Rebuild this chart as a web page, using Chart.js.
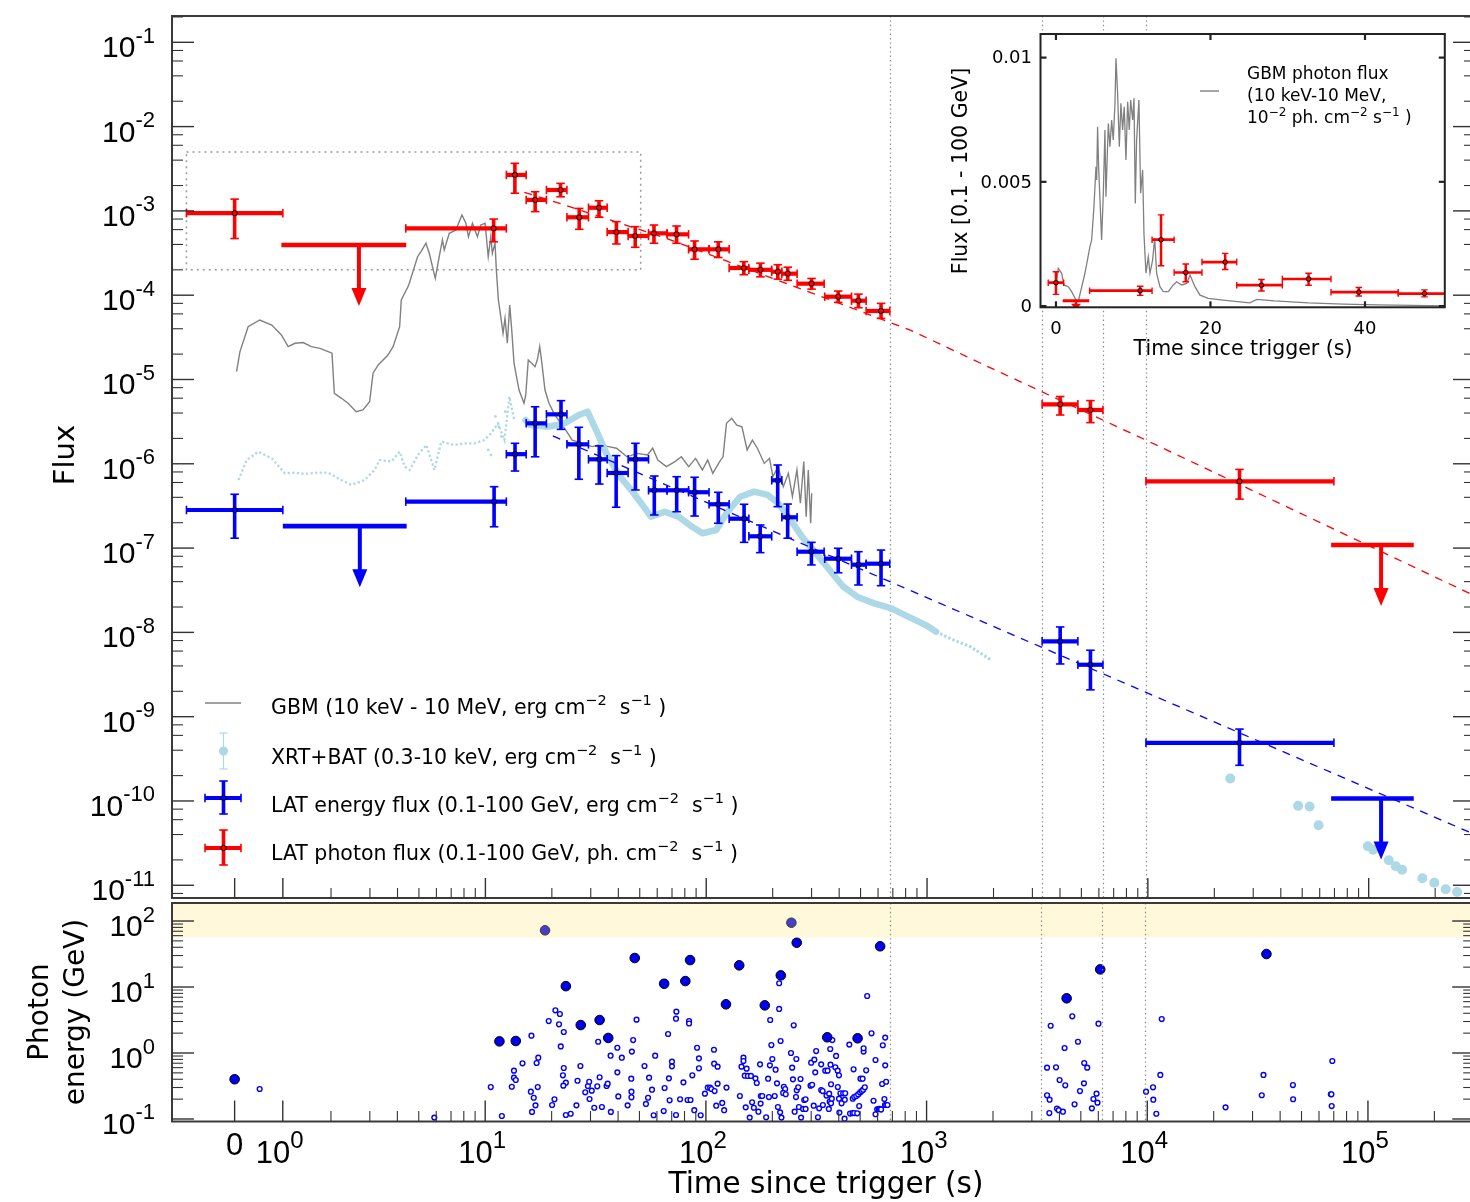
<!DOCTYPE html>
<html>
<head>
<meta charset="utf-8">
<script src="https://cdn.jsdelivr.net/npm/chart.js@4.4.1/dist/chart.umd.min.js"></script>
<style>
  body { margin: 0; background: #fff; }
  #wrap { position: relative; width: 1470px; height: 1202px; overflow: hidden; }
  #wrap canvas { position: absolute; left: 0; top: 0; }
</style>
</head>
<body>
<div id="wrap">
  <canvas id="mainChart" width="1480" height="1202"></canvas>
  <canvas id="photonChart" width="1480" height="1202"></canvas>
  <canvas id="insetChart" width="1480" height="1202"></canvas>
</div>
<script>
// ---- data ----
// LAT photon flux: [t, tlo, thi, flux, lo, hi]
const latPhoton = [
  [0, -1, 1, 9.4e-4, 4.7e-4, 1.38e-3],
  [10.9, 4.36, 12.44, 6.2e-4, 4.3e-4, 8.0e-4],
  [13.6, 12.44, 15.3, 2.67e-3, 1.62e-3, 3.67e-3],
  [16.8, 15.3, 18.9, 1.35e-3, 9.8e-4, 1.69e-3],
  [21.9, 18.9, 23.4, 1.77e-3, 1.47e-3, 2.12e-3],
  [26.6, 23.4, 29.3, 8.4e-4, 6.05e-4, 1.07e-3],
  [32.7, 29.3, 35.6, 1.09e-3, 8.4e-4, 1.32e-3],
  [39.2, 35.6, 44.3, 5.6e-4, 4.05e-4, 7.45e-4],
  [47.7, 44.3, 54.8, 5.04e-4, 3.7e-4, 6.5e-4],
  [58.0, 54.8, 66.5, 5.42e-4, 4.13e-4, 6.8e-4],
  [73.4, 66.5, 83.2, 5.27e-4, 4.13e-4, 6.62e-4],
  [88.6, 83.2, 103, 3.5e-4, 2.67e-4, 4.4e-4],
  [113.4, 103, 127, 3.5e-4, 2.8e-4, 4.3e-4],
  [148, 127, 156, 2.1e-4, 1.75e-4, 2.5e-4],
  [176, 156, 198, 2.0e-4, 1.65e-4, 2.4e-4],
  [211, 198, 220, 1.9e-4, 1.55e-4, 2.3e-4],
  [234, 220, 258, 1.8e-4, 1.5e-4, 2.15e-4],
  [300, 258, 342, 1.37e-4, 1.18e-4, 1.58e-4],
  [396, 344, 455, 9.6e-5, 8.2e-5, 1.12e-4],
  [489, 455, 530, 8.6e-5, 7.1e-5, 1.03e-4],
  [619, 530, 678, 6.5e-5, 5.3e-5, 8.0e-5],
  [4007, 3320, 4820, 5.07e-6, 3.79e-6, 6.28e-6],
  [5495, 4820, 6260, 4.35e-6, 3.08e-6, 5.62e-6],
  [26000, 9800, 69600, 6.2e-7, 3.81e-7, 8.57e-7]
];
const latPhotonUL = [[0.97, 4.38, 3.94e-4], [67600, 160000, 1.09e-7]];

// LAT energy flux: [t, tlo, thi, flux, lo, hi]
const latEnergy = [
  [0, -1, 1, 2.83e-7, 1.31e-7, 4.35e-7],
  [10.95, 4.36, 12.44, 3.56e-7, 1.79e-7, 5.35e-7],
  [13.62, 12.44, 15.3, 1.30e-6, 8.2e-7, 1.75e-6],
  [16.8, 15.3, 18.9, 3.02e-6, 1.21e-6, 4.75e-6],
  [22.0, 18.9, 23.4, 3.86e-6, 2.56e-6, 5.61e-6],
  [26.5, 23.4, 29.3, 1.70e-6, 6.55e-7, 2.71e-6],
  [32.8, 29.3, 35.6, 1.13e-6, 5.75e-7, 1.63e-6],
  [39.1, 35.6, 44.3, 7.78e-7, 3.05e-7, 1.25e-6],
  [47.8, 44.3, 54.8, 1.13e-6, 4.89e-7, 1.75e-6],
  [58.2, 54.8, 66.5, 4.85e-7, 2.47e-7, 7.16e-7],
  [73.5, 66.5, 83.2, 4.85e-7, 2.70e-7, 7.03e-7],
  [88.6, 83.2, 103, 4.6e-7, 2.40e-7, 6.92e-7],
  [113.4, 103, 127, 3.31e-7, 1.97e-7, 4.59e-7],
  [148.4, 127, 156, 2.23e-7, 1.17e-7, 3.31e-7],
  [175.6, 156, 198, 1.38e-7, 8.83e-8, 1.88e-7],
  [210.7, 198, 220, 6.37e-7, 3.10e-7, 9.68e-7],
  [233.8, 220, 258, 2.32e-7, 1.31e-7, 3.33e-7],
  [299.5, 258, 342, 9.06e-8, 6.31e-8, 1.17e-7],
  [396, 344, 455, 7.48e-8, 5.1e-8, 9.95e-8],
  [489, 455, 530, 6.35e-8, 3.65e-8, 9.06e-8],
  [619, 530, 678, 6.53e-8, 3.58e-8, 9.48e-8],
  [4007, 3320, 4820, 7.83e-9, 4.22e-9, 1.16e-8],
  [5495, 4820, 6260, 4.13e-9, 2.08e-9, 6.14e-9],
  [26000, 9800, 69600, 4.89e-10, 2.65e-10, 7.13e-10]
];
const latEnergyUL = [[1.0, 4.4, 1.82e-7], [67600, 160000, 1.07e-10]];

// GBM energy flux [t, erg cm-2 s-1]
const gbmMain = [
  [0.04,1.24e-5],[0.11,2.14e-5],[0.28,4.23e-5],[0.52,5.08e-5],[0.77,4.43e-5],[0.97,3.37e-5],[1.11,2.45e-5],
  [1.25,2.69e-5],[1.42,2.74e-5],[1.59,2.45e-5],[1.77,2.34e-5],[1.94,2.14e-5],[2.02,2.05e-5],[2.07,6.85e-6],
  [2.23,5.98e-6],[2.39,5.22e-6],[2.6,4.15e-6],[2.79,4.35e-6],[2.99,5.46e-6],[3.1,1.19e-5],[3.27,1.49e-5],
  [3.62,1.95e-5],[3.82,2.45e-5],[4.09,4.23e-5],[4.16,8.77e-5],[4.46,1.26e-4],[4.52,1.38e-4],[4.93,2.86e-4],
  [5.11,3.28e-4],[5.38,4.13e-4],[5.57,3.14e-4],[5.93,1.58e-4],[6.18,2.86e-4],[6.39,4.52e-4],[6.51,3.44e-4],
  [6.86,5.42e-4],[7.35,5.93e-4],[7.83,8.93e-4],[8.16,7.13e-4],[8.38,4.94e-4],[8.74,7.13e-4],[9.2,4.94e-4],
  [9.53,6.81e-4],[9.97,7.13e-4],[10.3,2.86e-4],[10.58,4.94e-4],[10.75,3.14e-4],[11.06,4.13e-4],[11.21,1.99e-4],
  [11.45,8.77e-5],[11.74,5.56e-5],[12.02,3.53e-5],[12.27,5.32e-5],[12.57,2.69e-5],[12.89,7.66e-5],[13.16,3.86e-5],
  [13.48,1.56e-5],[14.2,7.5e-6],[14.96,5.22e-6],[15.23,6.55e-6],[15.64,1.7e-5],[16.21,1.56e-5],[16.77,1.42e-5],
  [17.18,1.7e-5],[17.62,2.45e-5],[18.1,1.42e-5],[18.61,7.5e-6],[19.41,5.22e-6],[20.44,3.97e-6],[21.92,3.02e-6],
  [23.08,2.52e-6],[24.73,1.91e-6],[27.44,1.75e-6],[30.45,1.6e-6],[32.64,1.67e-6],[36.2,1.6e-6],[39.25,1.53e-6],
  [43.75,1.21e-6],[48.7,1.33e-6],[54.2,1.27e-6],[57.2,1.53e-6],[60.4,1.11e-6],[66,9.25e-7],[72.2,1.06e-6],
  [77.2,1.21e-6],[83.3,9.25e-7],[89.5,1.16e-6],[96.1,8.45e-7],[101.5,1.11e-6],[107.1,7.71e-7],[115,1.06e-6],
  [119.2,1.21e-6],[123.5,3.02e-6],[130.4,3.47e-6],[137.6,2.88e-6],[145.1,2.75e-6],[153.2,1.46e-6],[161.8,1.91e-6],
  [170.5,1.53e-6],[183.2,1.01e-6],[193.4,1.16e-6],[200.4,7.03e-7],[211.6,9.25e-7],[223.4,5.35e-7],[235.5,7.71e-7],
  [245.7,4.07e-7],[257.5,8.45e-7],[267,3.4e-7],[276.6,1.06e-6],[283.6,2.36e-7],[289.9,8.45e-7],[297.2,1.97e-7],
  [300.4,4.47e-7]
];

// BAT (early, dotted) and XRT (band, late dots)
const batLine = [
  [0.08,6.43e-7],[0.25,1.11e-6],[0.49,1.39e-6],[0.77,1.16e-6],[1.04,7.71e-7],[1.25,7.85e-7],[1.46,7.57e-7],
  [1.73,7.85e-7],[1.94,7.85e-7],[2.15,6.73e-7],[2.47,5.61e-7],[2.84,6.43e-7],[3.15,8.45e-7],[3.32,1.11e-6],
  [3.75,1.06e-6],[4.09,1.39e-6],[4.31,9.25e-7],[4.54,8.45e-7],[4.95,1.27e-6],[5.40,1.67e-6],[5.88,8.45e-7],
  [6.31,1.83e-6],[7.24,1.67e-6],[8.04,1.75e-6],[8.92,1.75e-6],[9.9,1.91e-6],[10.6,2.3e-6],[11.4,3.02e-6],
  [12.2,1.91e-6],[12.84,6.25e-6],[13.5,3.31e-6]
];
const batExtra = [[11.1,3.65e-6],[11.5,2.75e-6],[11.8,2.1e-6],[12.3,4.15e-6],[10.6,1.27e-6],[10.3,1.46e-6],[14.5,1.33e-6]];
const xrtBand = [
  [15.2,3.31e-6],[16.0,2.88e-6],[19.2,2.75e-6],[22.9,3.02e-6],[26.5,3.79e-6],[29.0,4.15e-6],[31.7,2.52e-6],
  [35.3,1.33e-6],[40.7,7.03e-7],[47.0,4.47e-7],[56.2,2.36e-7],[64.9,2.7e-7],[74.8,2.36e-7],[86.4,1.79e-7],
  [96.1,1.5e-7],[111,1.64e-7],[123.5,2.59e-7],[142.6,4.07e-7],[164.7,4.67e-7],[190,4.27e-7],[211.6,3.4e-7],
  [235.5,2.36e-7],[271.8,1.36e-7],[313.8,8.67e-8],[361.9,5.5e-8],[417.8,3.48e-8],[482.3,2.65e-8],[576.8,2.21e-8],
  [689.8,1.93e-8],[824.9,1.53e-8],[987.6,1.22e-8],[1099,1.02e-8]
];
const xrtTail = [[1099,1.02e-8],[1315,8.13e-9],[1573,6.76e-9],[1950,4.7e-9]];
const xrtLate = [
  [23600,1.85e-10],[47900,8.75e-11],[54000,8.59e-11],[59300,5.16e-11],[99100,2.91e-11],[104700,2.64e-11],
  [123300,1.98e-11],[132700,1.68e-11],[141600,1.53e-11],[175000,1.21e-11],[198200,1.07e-11],[223300,8.95e-12],
  [251200,8.32e-12]
];

// dashed decay curves
const redFit = [[15,1.66e-3],[21,1.26e-3],[65,4.79e-4],[840,3.86e-5],[1730,1.58e-5],[9800,1.91e-6],[2.6e5,3.27e-8],[3.03e5,2.71e-8]];
const blueFit = [[20.2,2.14e-6],[3.03e5,3.99e-11]];

// Fermi orbit boundaries and the zoom box
const orbitT = [680, 3310, 6260, 9770];
const zoomBoxT = [-1, 50.5];
const zoomBoxF = [2e-4, 5e-3];

// inset: GBM photon flux (10^-2 ph cm-2 s-1) and LAT upper limit
const gbmInset = [
  [0,7.8e-4],[0.3,1.52e-3],[0.74,1.32e-3],[1.04,8.5e-4],[1.6,7.8e-4],[2.03,5.8e-4],[2.59,2.4e-4],[2.9,2.0e-4],
  [3.19,5.8e-4],[3.75,1.32e-3],[4.4,2.39e-3],[4.62,2.66e-3],[4.92,4.0e-3],[5.18,5.61e-3],[5.27,5.07e-3],
  [5.39,7.22e-3],[5.52,5.61e-3],[5.7,4.27e-3],[5.91,2.66e-3],[6.13,4.54e-3],[6.34,7.09e-3],[6.47,4.4e-3],
  [6.78,7.35e-3],[6.99,6.41e-3],[7.21,7.49e-3],[7.42,6.68e-3],[7.64,8.16e-3],[7.77,9.97e-3],[7.98,8.56e-3],
  [8.2,6.41e-3],[8.41,8.16e-3],[8.63,7.09e-3],[8.84,8.02e-3],[9.06,5.88e-3],[9.28,8.22e-3],[9.49,7.09e-3],
  [9.67,8.29e-3],[9.93,7.49e-3],[10.1,8.36e-3],[10.27,4.13e-3],[10.44,6.68e-3],[10.74,8.29e-3],[10.96,4.54e-3],
  [11.22,5.48e-3],[11.39,2.93e-3],[11.65,1.32e-3],[11.95,1.98e-3],[12.17,1.32e-3],[12.51,1.85e-3],[12.78,2.73e-3],
  [13.03,1.32e-3],[13.46,7.8e-4],[13.89,5.8e-4],[14.54,5.8e-4],[15.19,8.5e-4],[15.62,9.8e-4],[16.27,8.5e-4],
  [16.92,9.1e-4],[17.35,1.25e-3],[17.99,7.8e-4],[18.64,4.4e-4],[19.72,3.1e-4],[21.6,2.4e-4],[25.1,1.3e-4],
  [26.0,2.7e-4],[28.3,2.1e-4],[32.7,1.3e-4],[37.2,8e-5],[41.6,5e-5],[46.1,3e-5],[50.3,1e-5]
];
const insetUL = [[0.87, 4.31, 2.1e-4]];

// photon energies [t, GeV]
const photonsHigh = [
  [0,0.40],[11.6,1.50],[13.76,1.52],[18.67,72.3],[23.2,10.3],[27.1,2.65],[33.0,3.16],[36.1,1.69],[47.6,27.5],
  [64.7,11.2],[80.7,12.3],[84.8,25.6],[123.3,5.47],[141.6,21.3],[184.9,5.27],[218.5,15.0],[244,94.2],[258,46.9],
  [354.8,1.73],[486.9,1.67],[616,41.4],[4312,6.74],[6120,18.5],[34670,31.6]
];
const photonsLow = [
  [0.52,0.285],[5.88,0.105],[10.6,0.305],[11.9,0.111],[13.2,0.308],[13.5,0.540],[13.5,0.423],[13.76,0.390],
  [14.76,0.698],[16.2,1.83],[16.1,0.259],[16.6,0.210],[16.9,0.161],[16.3,0.128],[17.1,0.705],[17.4,0.849],
  [17.3,0.305],[19.4,3.05],[20.1,0.163],[20.6,0.199],[20.8,4.44],[21.8,3.90],[21.6,2.72],[22.7,2.08],[22.0,1.26],
  [22.7,0.593],[22.5,0.459],[23.2,0.355],[22.6,0.320],[23.2,0.115],[24.4,0.120],[25.9,0.161],[26.2,0.380],
  [27.0,0.635],[28.4,0.254],[29.2,0.316],[29.6,0.367],[29.7,0.201],[30.4,0.269],[31.2,0.148],[32.2,0.313],
  [32.5,1.48],[33.0,0.429],[33.8,0.152],[35.5,0.316],[35.9,0.343],[37.0,0.910],[37.1,0.128],[39.7,1.20],
  [39.7,0.509],[40.1,0.220],[41.6,0.849],[44.2,0.161],[45.9,0.408],[46.0,0.259],[46.0,0.213],[46.2,1.05],
  [46.8,1.57],[48.5,3.20],[52.7,0.635],[53.5,0.169],[54.7,0.210],[55.3,0.423],[57.0,0.278],[58.0,0.114],
  [58.9,0.910],[64.4,0.132],[65,0.295],[67.4,1.94],[68,0.413],[68.5,0.192],[70.2,0.740],[70.2,0.628],
  [73.2,0.115],[73.5,4.23],[73.2,3.31],[76.4,0.199],[79.1,0.359],[82.6,0.194],[85.2,0.194],[83.9,3.05],
  [83.9,2.80],[86.8,0.459],[88.6,0.136],[91.2,1.20],[93,0.830],[93,0.586],[94.7,0.114],[99,0.242],[102,0.299],
  [104.5,0.299],[106,0.285],[108.8,1.12],[109,0.689],[109.5,0.265],[111.4,0.159],[113,0.621],[113,0.343],
  [118.6,0.175],[121,0.136],[124,0.299],[142.6,0.223],[145,0.621],[148,0.849],[148,0.757],[150,0.453],
  [151.5,0.150],[153,0.579],[155,0.449],[160,0.449],[158,0.105],[162,0.179],[165,0.148],[167.7,0.413],
  [170,0.351],[173,0.129],[177.4,0.223],[180,0.223],[176,0.673],[177,0.171],[187.5,0.106],[191.4,0.408],
  [193,0.215],[195,0.650],[195.6,3.16],[198,1.32],[200,0.811],[205,0.223],[207,0.558],[210,0.347],[212,0.152],
  [214.8,4.65],[214.8,11.4],[217,0.126],[218,1.52],[220,0.105],[225.5,0.308],[228.7,0.285],[224,0.248],
  [230,0.237],[243,1.0],[246,0.600],[248,0.399],[250,2.63],[252.5,0.129],[256,0.215],[257,0.811],[258,0.272],
  [262,0.302],[264,0.152],[268.4,0.404],[270,0.105],[275.7,0.142],[283,0.142],[279,0.194],[283,0.199],
  [298,0.320],[303,0.330],[300,0.713],[308,0.159],[310,0.793],[313,0.509],[316,1.07],[322,0.106],[326,0.145],
  [333,0.275],[333,0.673],[338,0.265],[339,0.163],[347.5,0.540],[356,0.540],[352,0.226],[360.7,0.142],
  [362,0.242],[364,0.183],[369,0.173],[366,1.15],[367,0.665],[369,0.336],[372,0.203],[374,1.57],[386,0.607],
  [389,0.902],[395.6,0.540],[400.9,0.459],[396,0.305],[401,0.203],[402.6,0.125],[407,0.245],[419,0.245],
  [428,0.245],[412,0.173],[425,0.101],[426,0.196],[446.6,1.34],[450,0.121],[461.7,0.123],[470,0.123],
  [463,0.203],[470,0.215],[466.9,0.566],[480,0.223],[490,0.236],[500,0.253],[508,0.265],[516,0.278],
  [525,0.302],[485,0.122],[495,0.157],[501.8,0.408],[513,0.408],[518.4,1.05],[518.4,1.18],[532.4,0.547],
  [538,7.31],[563,1.99],[575,0.189],[587,0.783],[587,0.118],[597,0.140],[607,0.142],[615,0.142],[622,0.139],
  [629,0.339],[633.4,1.31],[644,0.201],[649.4,1.71],[649.4,0.650],[656,0.367],[648,0.163],[656,0.163],
  [665,0.163],
  [3650,2.59],[3515,0.600],[3860,0.607],[3515,0.229],[3610,0.196],[3600,0.123],[4007,0.390],[3900,0.144],
  [3970,0.136],[4150,0.129],[4221,1.19],[4250,0.324],[4573,3.60],[4684,0.167],[4853,1.48],[4955,0.265],
  [5165,0.347],[5180,0.705],[5346,0.600],[5610,0.145],[5700,0.201],[5890,0.242],[5950,0.177],[6010,2.78],
  [9875,0.259],[10620,0.302],[10650,0.196],[10990,0.120],[11460,0.465],[11630,3.27],[22630,0.150],
  [33030,0.229],[33620,0.465],[45710,0.327],[45800,0.199],[67900,0.237],[68300,0.237],[68500,0.157],
  [68960,0.757]
];
const highEnergyBand = [56, 200];

// tick labels
const xMajorT = [0, 1, 10, 100, 1000, 10000, 100000];
const xMajorExp = ['', '0', '1', '2', '3', '4', '5'];
const fluxExp = [-1, -2, -3, -4, -5, -6, -7, -8, -9, -10, -11];
const energyExp = [2, 1, 0, -1];
const insetXTicks = [0, 20, 40];
const insetYTicks = [0, 0.005, 0.01];
const insetYLabels = ['0', '0.005', '0.01'];

// ---- time axis: linear below 2 s, logarithmic above ----
const LOG2 = Math.log10(2), LIN = 0.4365;
function sl(t) { return t >= 2 ? Math.log10(t) : LOG2 - LIN * (2 - t) / 2; }
const XMIN = sl(-1.3), XMAX = Math.log10(3.03e5);

const FONT = '"DejaVu Sans", sans-serif';
const TFONT = '"Liberation Sans", Arial, sans-serif';
const RED = '#ff0000', BLUE = '#0000ff', LBLUE = '#add8e6', GREY = '#808080';

const pts = arr => arr.map(p => ({ x: sl(p[0]), y: p[1] }));
const lin = arr => arr.map(p => ({ x: p[0], y: p[1] }));

// ---- drawing helpers ----
function text(ctx, s, x, y, size, o = {}) {
  ctx.save();
  ctx.font = size + 'px ' + (o.family || FONT);
  ctx.fillStyle = o.color || '#000';
  ctx.textAlign = o.align || 'left';
  ctx.textBaseline = o.base || 'alphabetic';
  ctx.translate(x, y);
  if (o.rot) ctx.rotate(o.rot);
  ctx.fillText(s, 0, 0);
  ctx.restore();
}
// segments: [string, isSuperscript]
function rich(ctx, segs, x, y, size, sup, rise, family, align) {
  ctx.save();
  ctx.fillStyle = '#000';
  ctx.textAlign = 'left';
  ctx.textBaseline = 'alphabetic';
  let w = 0;
  const ws = segs.map(([s, up]) => {
    ctx.font = (up ? sup : size) + 'px ' + family;
    const m = ctx.measureText(s).width; w += m; return m;
  });
  let cx = align === 'right' ? x - w : align === 'center' ? x - w / 2 : x;
  segs.forEach(([s, up], i) => {
    ctx.font = (up ? sup : size) + 'px ' + family;
    ctx.fillText(s, cx, up ? y - rise : y);
    cx += ws[i];
  });
  ctx.restore();
}
function seg(ctx, x1, y1, x2, y2) { ctx.beginPath(); ctx.moveTo(x1, y1); ctx.lineTo(x2, y2); ctx.stroke(); }
function clipArea(ctx, a) { ctx.beginPath(); ctx.rect(a.left, a.top, a.right - a.left, a.bottom - a.top); ctx.clip(); }

function drawCross(ctx, x, xl, xr, y, yl, yh, color, s) {
  ctx.strokeStyle = color;
  ctx.lineCap = 'butt';
  ctx.lineWidth = s.hw; seg(ctx, xl, y, xr, y);
  ctx.lineWidth = s.vw; seg(ctx, x, yh, x, yl);
  ctx.lineWidth = s.cw;
  seg(ctx, xl, y - s.cap / 2, xl, y + s.cap / 2);
  seg(ctx, xr, y - s.cap / 2, xr, y + s.cap / 2);
  seg(ctx, x - s.cap / 2, yh, x + s.cap / 2, yh);
  seg(ctx, x - s.cap / 2, yl, x + s.cap / 2, yl);
  ctx.beginPath(); ctx.arc(x, y, s.r, 0, Math.PI * 2);
  ctx.fillStyle = color; ctx.fill();
  ctx.lineWidth = 1; ctx.strokeStyle = '#000'; ctx.stroke();
}
// upper limit: bar over the bin, arrow at the bin's centre time
function drawUL(ctx, xl, xr, xm, y, color, s) {
  ctx.strokeStyle = color; ctx.fillStyle = color; ctx.lineCap = 'butt';
  ctx.lineWidth = s.hw; seg(ctx, xl, y, xr, y);
  ctx.lineWidth = s.vw; seg(ctx, xm, y, xm, y + s.len - s.head + 2);
  ctx.beginPath();
  ctx.moveTo(xm - s.headW / 2, y + s.len - s.head);
  ctx.lineTo(xm + s.headW / 2, y + s.len - s.head);
  ctx.lineTo(xm, y + s.len);
  ctx.closePath(); ctx.fill();
}

const MAIN_STYLE = { hw: 4.2, vw: 3.6, cw: 1.6, cap: 8.5, r: 2.6 };
const UL_STYLE = { hw: 4.6, vw: 4, len: 61, head: 18, headW: 15 };
const INSET_STYLE = { hw: 2.7, vw: 2.5, cw: 1.4, cap: 6.5, r: 2.3 };

// vertical inward ticks for a time axis
function timeTicks(ctx, xs, yBase, major, minor) {
  ctx.strokeStyle = '#333'; ctx.lineWidth = 1.4;
  xMajorT.forEach(t => { const px = xs.getPixelForValue(sl(t)); seg(ctx, px, yBase, px, yBase - major); });
  ctx.lineWidth = 1.1;
  for (let k = 0; k <= 5; k++) for (let m = 2; m <= 9; m++) {
    const t = m * Math.pow(10, k);
    if (sl(t) < xs.max) { const px = xs.getPixelForValue(sl(t)); seg(ctx, px, yBase, px, yBase - minor); }
  }
}
function orbitLines(ctx, xs, a) {
  ctx.save();
  ctx.strokeStyle = '#8a8a8a'; ctx.lineWidth = 1.2; ctx.setLineDash([1.4, 3]);
  orbitT.forEach(t => { const px = Math.round(xs.getPixelForValue(sl(t))) + 0.5; seg(ctx, px, a.top, px, a.bottom); });
  ctx.restore();
}

// ---- main light-curve panel ----
const mainDecor = {
  id: 'mainDecor',
  beforeDatasetsDraw(chart) {
    const { ctx, chartArea: a, scales: { x, y } } = chart;
    orbitLines(ctx, x, a);
    ctx.save();
    ctx.strokeStyle = '#9a9a9a'; ctx.lineWidth = 1.5; ctx.setLineDash([2, 4]);
    const x0 = x.getPixelForValue(sl(zoomBoxT[0])), x1 = x.getPixelForValue(sl(zoomBoxT[1]));
    const y0 = y.getPixelForValue(zoomBoxF[1]), y1 = y.getPixelForValue(zoomBoxF[0]);
    ctx.strokeRect(x0, y0, x1 - x0, y1 - y0);
    ctx.restore();
  },
  afterDatasetsDraw(chart) {
    const { ctx, chartArea: a, scales: { x, y } } = chart;
    ctx.save();
    clipArea(ctx, a);
    const cross = (rows, color) => rows.forEach(r => drawCross(ctx,
      x.getPixelForValue(sl(r[0])), x.getPixelForValue(sl(r[1])), x.getPixelForValue(sl(r[2])),
      y.getPixelForValue(r[3]), y.getPixelForValue(r[4]), y.getPixelForValue(r[5]), color, MAIN_STYLE));
    const ul = (rows, color) => rows.forEach(r => drawUL(ctx,
      x.getPixelForValue(sl(r[0])), x.getPixelForValue(sl(r[1])), x.getPixelForValue(sl((r[0] + r[1]) / 2)),
      y.getPixelForValue(r[2]), color, UL_STYLE));
    ul(latEnergyUL, BLUE); cross(latEnergy, BLUE);
    ul(latPhotonUL, RED); cross(latPhoton, RED);
    ctx.restore();
  },
  afterDraw(chart) {
    const { ctx, chartArea: a, scales: { x, y } } = chart;
    ctx.save();
    // spines
    ctx.strokeStyle = '#3a3a3a'; ctx.lineWidth = 2;
    ctx.strokeRect(a.left, a.top, a.right - a.left, a.bottom - a.top);
    // y ticks
    ctx.strokeStyle = '#333';
    for (let k = -12; k <= 0; k++) {
      const v = Math.pow(10, k);
      if (v >= y.min && v <= y.max) {
        const py = y.getPixelForValue(v); ctx.lineWidth = 1.4;
        seg(ctx, a.left, py, a.left + 22, py); seg(ctx, a.right, py, a.right - 22, py);
      }
      [2, 4, 6, 8].forEach(m => {
        const w = m * v;
        if (w >= y.min && w <= y.max) {
          const py = y.getPixelForValue(w); ctx.lineWidth = 1.1;
          seg(ctx, a.left, py, a.left + 11, py); seg(ctx, a.right, py, a.right - 11, py);
        }
      });
    }
    timeTicks(ctx, x, a.bottom, 20, 10);
    // y tick labels
    fluxExp.forEach(k => {
      const py = y.getPixelForValue(Math.pow(10, k));
      rich(ctx, [['10', 0], ['-' + (-k), 1]], 155, py + 15, 30, 22, 14.5, TFONT, 'right');
    });
    text(ctx, 'Flux', 66, 455, 29, { rot: -Math.PI / 2, align: 'center', base: 'middle' });
    // legend
    ctx.lineCap = 'butt';
    ctx.strokeStyle = GREY; ctx.lineWidth = 1.5; seg(ctx, 205, 703, 241, 703);
    ctx.strokeStyle = LBLUE; ctx.lineWidth = 1.2; seg(ctx, 223.5, 733, 223.5, 769);
    seg(ctx, 219.5, 733, 227.5, 733); seg(ctx, 219.5, 769, 227.5, 769);
    ctx.beginPath(); ctx.arc(223.5, 751, 4.6, 0, Math.PI * 2); ctx.fillStyle = LBLUE; ctx.fill();
    drawCross(ctx, 223.5, 205, 241, 798, 814, 781, BLUE, MAIN_STYLE);
    drawCross(ctx, 223.5, 205, 241, 848, 865, 830, RED, MAIN_STYLE);
    const unit = lead => [[lead, 0], ['\u22122', 1], ['  s', 0], ['\u22121', 1], [' )', 0]];
    rich(ctx, unit('GBM (10 keV - 10 MeV, erg cm'), 271, 714, 20.5, 14.5, 9, FONT, 'left');
    rich(ctx, unit('XRT+BAT (0.3-10 keV, erg cm'), 271, 764, 20.5, 14.5, 9, FONT, 'left');
    rich(ctx, unit('LAT energy flux (0.1-100 GeV, erg cm'), 271, 812, 20.5, 14.5, 9, FONT, 'left');
    rich(ctx, unit('LAT photon flux (0.1-100 GeV, ph. cm'), 271, 860, 20.5, 14.5, 9, FONT, 'left');
    ctx.restore();
  }
};

new Chart(document.getElementById('mainChart'), {
  type: 'scatter',
  data: {
    datasets: [
      { data: pts(redFit), showLine: true, borderColor: RED, borderWidth: 1.3, borderDash: [8, 7], pointRadius: 0, order: 1 },
      { data: pts(blueFit), showLine: true, borderColor: BLUE, borderWidth: 1.3, borderDash: [8, 7], pointRadius: 0, order: 2 },
      { data: pts(xrtLate), pointRadius: 5, backgroundColor: LBLUE, borderWidth: 0, order: 3 },
      { data: pts(xrtTail), showLine: true, borderColor: LBLUE, borderWidth: 3, borderDash: [2.5, 2], pointRadius: 0, order: 4 },
      { data: pts(xrtBand), showLine: true, borderColor: LBLUE, borderWidth: 6.5, borderJoinStyle: 'round', borderCapStyle: 'round', pointRadius: 0, order: 5 },
      { data: pts(batExtra), pointRadius: 1.4, backgroundColor: LBLUE, borderWidth: 0, order: 6 },
      { data: pts(batLine), showLine: true, borderColor: LBLUE, borderWidth: 2.3, borderDash: [2.2, 2.4], pointRadius: 0, order: 7 },
      { data: pts(gbmMain), showLine: true, borderColor: GREY, borderWidth: 1.4, pointRadius: 0, order: 8 }
    ]
  },
  options: {
    responsive: false, animation: false, devicePixelRatio: 1, events: [],
    layout: { padding: { left: 172, top: 16, right: 2, bottom: 304 } },
    plugins: { legend: { display: false }, tooltip: { enabled: false } },
    scales: {
      x: { type: 'linear', display: false, min: XMIN, max: XMAX },
      y: { type: 'logarithmic', display: false, min: Math.pow(10, -11.151), max: Math.pow(10, -0.688) }
    }
  },
  plugins: [mainDecor]
});

// ---- photon energy panel ----
const photonDecor = {
  id: 'photonDecor',
  afterDatasetsDraw(chart) {
    const { ctx, chartArea: a, scales: { x, y } } = chart;
    ctx.save();
    const yb = y.getPixelForValue(highEnergyBand[0]);
    ctx.fillStyle = 'rgba(255, 228, 120, 0.27)';
    ctx.fillRect(a.left, a.top, a.right - a.left, yb - a.top);
    ctx.restore();
    orbitLines(ctx, x, a);
  },
  afterDraw(chart) {
    const { ctx, chartArea: a, scales: { x, y } } = chart;
    ctx.save();
    ctx.strokeStyle = '#3a3a3a'; ctx.lineWidth = 2;
    ctx.strokeRect(a.left, a.top, a.right - a.left, a.bottom - a.top);
    ctx.strokeStyle = '#333';
    for (let k = -2; k <= 2; k++) {
      const v = Math.pow(10, k);
      if (v >= y.min && v <= y.max) {
        const py = y.getPixelForValue(v); ctx.lineWidth = 1.4;
        seg(ctx, a.left, py, a.left + 22, py); seg(ctx, a.right, py, a.right - 22, py);
      }
      for (let m = 2; m <= 9; m++) {
        const w = m * v;
        if (w >= y.min && w <= y.max) {
          const py = y.getPixelForValue(w); ctx.lineWidth = 1.1;
          seg(ctx, a.left, py, a.left + 11, py); seg(ctx, a.right, py, a.right - 11, py);
        }
      }
    }
    timeTicks(ctx, x, a.bottom, 21, 10.5);
    energyExp.forEach(k => {
      const py = y.getPixelForValue(Math.pow(10, k));
      rich(ctx, [['10', 0], [String(k), 1]], 155, py + 15, 30, 22, 14.5, TFONT, 'right');
    });
    xMajorT.forEach((t, i) => {
      const px = x.getPixelForValue(sl(t));
      if (t === 0) text(ctx, '0', px, 1155, 31, { family: TFONT, align: 'center' });
      else rich(ctx, [['10', 0], [xMajorExp[i], 1]], px - 3, 1163, 31, 24, 15, TFONT, 'center');
    });
    text(ctx, 'Time since trigger (s)', 826, 1193, 29.5, { align: 'center' });
    text(ctx, 'Photon', 41, 1012, 28, { rot: -Math.PI / 2, align: 'center', base: 'middle' });
    text(ctx, 'energy (GeV)', 77, 1012, 28, { rot: -Math.PI / 2, align: 'center', base: 'middle' });
    ctx.restore();
  }
};

new Chart(document.getElementById('photonChart'), {
  type: 'scatter',
  data: {
    datasets: [
      { data: pts(photonsHigh), pointRadius: 4.8, backgroundColor: '#0000ee', borderColor: '#000', borderWidth: 1, order: 1 },
      { data: pts(photonsLow), pointRadius: 2.4, backgroundColor: '#fff', borderColor: BLUE, borderWidth: 1.4, order: 2 }
    ]
  },
  options: {
    responsive: false, animation: false, devicePixelRatio: 1, events: [],
    layout: { padding: { left: 172, top: 903, right: 2, bottom: 80.5 } },
    plugins: { legend: { display: false }, tooltip: { enabled: false } },
    scales: {
      x: { type: 'linear', display: false, min: XMIN, max: XMAX },
      y: { type: 'logarithmic', display: false, min: Math.pow(10, -1.038), max: Math.pow(10, 2.273) }
    }
  },
  plugins: [photonDecor]
});

// ---- inset: prompt phase on a linear scale ----
const insetDecor = {
  id: 'insetDecor',
  beforeDatasetsDraw(chart) {
    const { ctx, chartArea: a } = chart;
    ctx.save(); ctx.fillStyle = '#fff';
    ctx.fillRect(a.left, a.top, a.right - a.left, a.bottom - a.top);
    ctx.restore();
  },
  afterDatasetsDraw(chart) {
    const { ctx, chartArea: a, scales: { x, y } } = chart;
    ctx.save();
    clipArea(ctx, a);
    insetUL.forEach(r => {
      const xl = x.getPixelForValue(r[0]), xr = x.getPixelForValue(r[1]), py = y.getPixelForValue(r[2]);
      const xm = (xl + xr) / 2;
      ctx.strokeStyle = RED; ctx.fillStyle = RED; ctx.lineWidth = 3;
      seg(ctx, xl, py, xr, py);
      ctx.lineWidth = 2.5; seg(ctx, xm, py, xm, py + 4);
      ctx.beginPath(); ctx.moveTo(xm - 5, py + 3); ctx.lineTo(xm + 5, py + 3); ctx.lineTo(xm, py + 9); ctx.closePath(); ctx.fill();
    });
    latPhoton.filter(r => r[0] < 55).forEach(r => drawCross(ctx,
      x.getPixelForValue(r[0]), x.getPixelForValue(r[1]), x.getPixelForValue(r[2]),
      y.getPixelForValue(r[3]), y.getPixelForValue(r[4]), y.getPixelForValue(r[5]), RED, INSET_STYLE));
    ctx.restore();
  },
  afterDraw(chart) {
    const { ctx, chartArea: a, scales: { x, y } } = chart;
    ctx.save();
    ctx.strokeStyle = '#222'; ctx.lineWidth = 2;
    ctx.strokeRect(a.left, a.top, a.right - a.left, a.bottom - a.top);
    ctx.lineWidth = 2.2;
    insetXTicks.forEach(t => {
      const px = x.getPixelForValue(t);
      seg(ctx, px, a.bottom, px, a.bottom - 6); seg(ctx, px, a.top, px, a.top + 6);
      text(ctx, String(t), px, 329, 18, { align: 'center', base: 'middle' });
    });
    insetYTicks.forEach((v, i) => {
      const py = y.getPixelForValue(v);
      seg(ctx, a.left, py, a.left + 6, py); seg(ctx, a.right, py, a.right - 6, py);
      text(ctx, insetYLabels[i], 1032, py + 1, 18, { align: 'right', base: 'middle' });
    });
    text(ctx, 'Time since trigger (s)', 1243, 350, 20.5, { align: 'center', base: 'middle' });
    text(ctx, 'Flux [0.1 - 100 GeV]', 962, 171, 20.5, { rot: -Math.PI / 2, align: 'center', base: 'middle' });
    ctx.strokeStyle = GREY; ctx.lineWidth = 1.4; seg(ctx, 1200, 91, 1219, 91);
    text(ctx, 'GBM photon flux', 1247, 79, 17);
    text(ctx, '(10 keV-10 MeV,', 1247, 101, 17);
    rich(ctx, [['10', 0], ['\u22122', 1], [' ph. cm', 0], ['\u22122', 1], [' s', 0], ['\u22121', 1], [' )', 0]],
      1247, 123, 17, 12, 7, FONT, 'left');
    ctx.restore();
  }
};

new Chart(document.getElementById('insetChart'), {
  type: 'scatter',
  data: {
    datasets: [
      { data: lin(gbmInset), showLine: true, borderColor: GREY, borderWidth: 1.3, pointRadius: 0 }
    ]
  },
  options: {
    responsive: false, animation: false, devicePixelRatio: 1, events: [],
    layout: { padding: { left: 1040.5, top: 34, right: 35.2, bottom: 894.7 } },
    plugins: { legend: { display: false }, tooltip: { enabled: false } },
    scales: {
      x: { type: 'linear', display: false, min: -2, max: 50.33 },
      y: { type: 'linear', display: false, min: -0.00005, max: 0.01095 }
    }
  },
  plugins: [insetDecor]
});
</script>
</body>
</html>
